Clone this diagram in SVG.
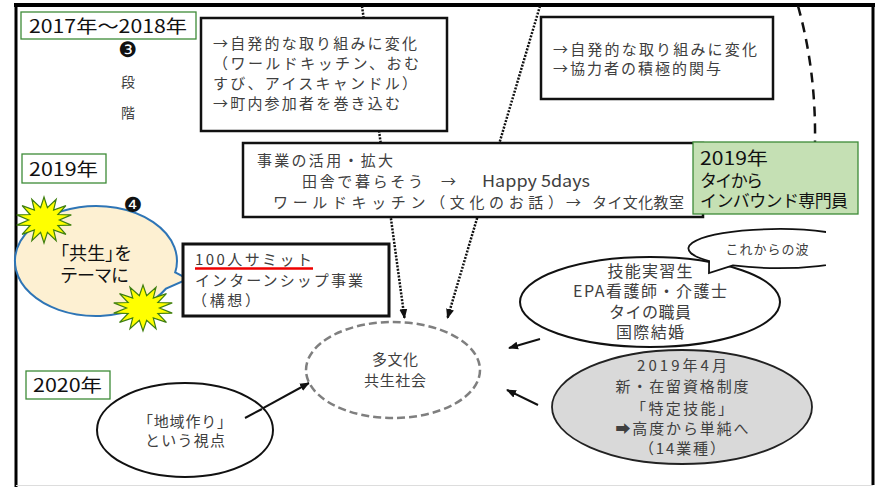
<svg xmlns="http://www.w3.org/2000/svg" width="878" height="487" viewBox="0 0 878 487">
<defs>
<style>
.t{font-family:"Noto Sans CJK JP","DejaVu Sans",sans-serif;fill:#404040}
.k{fill:#111}
.yr{font-family:"Noto Sans CJK JP","DejaVu Sans",sans-serif;font-size:18px;fill:#111}
.ybox{fill:#fff;stroke:#3d8b37;stroke-width:1.3}
.box{fill:#fff;stroke:#111;stroke-width:2.5}
.dot{fill:none;stroke:#111;stroke-width:2.5;stroke-dasharray:2 1.4}
.arr{fill:none;stroke:#111;stroke-width:2}
.f15{font-size:15px}
.f16{font-size:16px}
.f17{font-size:17px}
.mid{text-anchor:middle}
.star{fill:#ffff00;stroke:#3f7f10;stroke-width:1.2}
.num{font-family:"DejaVu Sans",sans-serif;font-size:21px;fill:#111;text-anchor:middle}
</style>
<marker id="ah" viewBox="0 0 10 10" markerWidth="10" markerHeight="10" refX="9" refY="5" orient="auto" markerUnits="userSpaceOnUse"><path d="M0,1 L10,5 L0,9 Z" fill="#111"/></marker>
<polygon id="starShape" vector-effect="non-scaling-stroke" points="0,-10 1.22,-5.36 4.34,-9.01 3.43,-4.3 7.82,-6.24 4.96,-2.39 9.75,-2.23 5.5,0 9.75,2.23 4.96,2.39 7.82,6.24 3.43,4.3 4.34,9.01 1.22,5.36 0,10 -1.22,5.36 -4.34,9.01 -3.43,4.3 -7.82,6.24 -4.96,2.39 -9.75,2.23 -5.5,0 -9.75,-2.23 -4.96,-2.39 -7.82,-6.24 -3.43,-4.3 -4.34,-9.01 -1.22,-5.36"/>
<clipPath id="cw"><rect x="0" y="0" width="826" height="487"/></clipPath>
</defs>

<rect x="0" y="0" width="878" height="487" fill="#fff"/>

<g id="frame">
<line x1="14" y1="5" x2="875" y2="5" stroke="#000" stroke-width="4"/>
<line x1="16" y1="3" x2="16" y2="487" stroke="#000" stroke-width="3"/>
<line x1="873" y1="3" x2="873" y2="485" stroke="#000" stroke-width="3"/>
<line x1="16" y1="485.5" x2="873" y2="485.5" stroke="#ddd" stroke-width="1"/>
</g>

<g id="connectors">
<line class="dot" x1="362" y1="6" x2="404.5" y2="318" marker-end="url(#ah)"/>
<line class="dot" x1="540" y1="6" x2="447.5" y2="318" marker-end="url(#ah)"/>
<path d="M798,6 Q816,70 815,142" fill="none" stroke="#111" stroke-width="2.5" stroke-dasharray="10 7"/>
<line class="arr" x1="245" y1="418" x2="309" y2="383" marker-end="url(#ah)"/>
<line class="arr" x1="540" y1="339" x2="509" y2="348" marker-end="url(#ah)"/>
<line class="arr" x1="538" y1="405" x2="507" y2="390" marker-end="url(#ah)"/>
</g>

<g id="label-2017">
<rect class="ybox" x="21" y="12" width="175" height="27"/>
<text class="yr" x="29" y="33" textLength="158" lengthAdjust="spacingAndGlyphs">2017年〜2018年</text>
</g>
<g id="stage3">
<text class="num" x="128" y="57">❸</text>
<text class="t" x="128" y="87" font-size="14" text-anchor="middle">段</text>
<text class="t" x="128" y="118" font-size="14" text-anchor="middle">階</text>
</g>
<g id="label-2019">
<rect class="ybox" x="22" y="154" width="84" height="29"/>
<text class="yr" x="29" y="176" textLength="69" lengthAdjust="spacingAndGlyphs">2019年</text>
</g>
<g id="label-2020">
<rect class="ybox" x="26" y="371" width="84" height="28"/>
<text class="yr" x="33" y="392" textLength="69" lengthAdjust="spacingAndGlyphs">2020年</text>
</g>

<g id="box1">
<rect class="box" x="201" y="18" width="246" height="113"/>
<text class="t f15" x="213" y="49" textLength="204" lengthAdjust="spacing">→自発的な取り組みに変化</text>
<text class="t f15" x="213" y="69" textLength="206" lengthAdjust="spacing">（ワールドキッチン、おむ</text>
<text class="t f15" x="213" y="89" textLength="204" lengthAdjust="spacing">すび、アイスキャンドル）</text>
<text class="t f15" x="213" y="109" textLength="187" lengthAdjust="spacing">→町内参加者を巻き込む</text>
</g>

<g id="box2">
<rect class="box" x="541" y="17" width="232" height="82"/>
<text class="t f15" x="553" y="55" textLength="204" lengthAdjust="spacing">→自発的な取り組みに変化</text>
<text class="t f15" x="553" y="74" textLength="168" lengthAdjust="spacing">→協力者の積極的関与</text>
</g>

<g id="box3">
<rect class="box" x="243" y="143" width="460" height="74"/>
<text class="t f15" x="257" y="166" textLength="136" lengthAdjust="spacing">事業の活用・拡大</text>
<text class="t f15" x="302" y="187" textLength="121" lengthAdjust="spacing">田舎で暮らそう</text>
<text class="t f15" x="441" y="187">→</text>
<text class="t" font-size="16.5" x="482" y="187" textLength="108" lengthAdjust="spacingAndGlyphs">Happy 5days</text>
<text class="t f15" x="273" y="208" textLength="290" lengthAdjust="spacing">ワールドキッチン（文化のお話）</text>
<text class="t f15" x="566" y="208">→</text>
<text class="t f15" x="592" y="208" textLength="92" lengthAdjust="spacing">タイ文化教室</text>
</g>

<g id="inbound">
<rect x="693" y="142" width="165" height="72" fill="#c5e0b4" stroke="#3d8b37" stroke-width="1.3"/>
<text class="t k" font-size="18" x="700" y="165" textLength="68" lengthAdjust="spacingAndGlyphs">2019年</text>
<text class="t k f17" x="700" y="187" textLength="63" lengthAdjust="spacing">タイから</text>
<text class="t k f17" x="700" y="207" textLength="148" lengthAdjust="spacing">インバウンド専門員</text>
</g>

<g id="balloon">
<path d="M175.2,272.4 L188,279 L166.1,288.5 A81,55 0 1 1 175.2,272.4 Z" fill="#fdf0d2" stroke="#2e75b6" stroke-width="2"/>
<use href="#starShape" class="star" transform="translate(44,220) scale(2.8,2.3)"/>
<use href="#starShape" class="star" transform="translate(143,308) scale(3,2.3)"/>
<text class="t k" font-size="18" x="60" y="260" textLength="71" lengthAdjust="spacing" style="font-feature-settings:'palt'">「共生」を</text>
<text class="t k" font-size="18" x="60" y="282" textLength="69" lengthAdjust="spacing">テーマに</text>
</g>
<g id="stage4">
<text class="num" x="133" y="212">❹</text>
</g>

<g id="summit">
<rect x="183" y="244" width="206" height="72" fill="#fff" stroke="#111" stroke-width="3"/>
<text class="t f15" x="195" y="265" textLength="117" lengthAdjust="spacing">100人サミット</text>
<line x1="195" y1="268.5" x2="313" y2="268.5" stroke="#e00" stroke-width="2.5"/>
<text class="t f15" x="195" y="286" textLength="168" lengthAdjust="spacing">インターンシップ事業</text>
<text class="t f15" x="192" y="306" textLength="68" lengthAdjust="spacing">（構想）</text>
</g>

<g id="tabunka">
<ellipse cx="393" cy="370" rx="87" ry="48" fill="#fff" stroke="#7f7f7f" stroke-width="2.5" stroke-dasharray="8 4"/>
<text class="t f15 mid" x="395" y="365" textLength="46" lengthAdjust="spacing">多文化</text>
<text class="t f15 mid" x="395" y="386" textLength="62" lengthAdjust="spacing">共生社会</text>
</g>

<g id="chiiki">
<ellipse cx="185" cy="430" rx="88" ry="47" fill="#fff" stroke="#111" stroke-width="2"/>
<text class="t f15 mid" x="185" y="427" textLength="94" lengthAdjust="spacing">「地域作り」</text>
<text class="t f15 mid" x="185" y="446" textLength="80" lengthAdjust="spacing">という視点</text>
</g>
<line class="arr" x1="245" y1="418" x2="262" y2="409"/>

<g id="ginou">
<ellipse cx="650" cy="302" rx="130" ry="45" fill="#fff" stroke="#111" stroke-width="2"/>
<text class="t f16 mid" x="650" y="277" textLength="85" lengthAdjust="spacing">技能実習生</text>
<text class="t f16 mid" x="650" y="297" textLength="154" lengthAdjust="spacing">EPA看護師・介護士</text>
<text class="t f16 mid" x="650" y="318" textLength="82" lengthAdjust="spacing">タイの職員</text>
<text class="t f16 mid" x="650" y="338" textLength="68" lengthAdjust="spacing">国際結婚</text>
</g>

<g id="wave" clip-path="url(#cw)">
<path d="M733,265.4 L709,273 L709.1,261 A90,19.5 0 1 1 733,265.4 Z" fill="#fff" stroke="#111" stroke-width="1.8"/>
<text class="t mid" font-size="13" x="767" y="254" textLength="83" lengthAdjust="spacing">これからの波</text>
</g>

<g id="tokutei">
<ellipse cx="682" cy="407" rx="130" ry="57" fill="#d9d9d9" stroke="#222" stroke-width="1.8"/>
<text class="t f15 mid" x="682" y="371" textLength="90" lengthAdjust="spacing">2019年4月</text>
<text class="t f15 mid" x="682" y="392" textLength="133" lengthAdjust="spacing">新・在留資格制度</text>
<text class="t f15 mid" x="682" y="414" textLength="102" lengthAdjust="spacing">「特定技能」</text>
<text class="t f15 mid" x="682" y="434" textLength="133" lengthAdjust="spacing">➡高度から単純へ</text>
<text class="t f15 mid" x="682" y="454" textLength="86" lengthAdjust="spacing">（14業種）</text>
</g>
</svg>
